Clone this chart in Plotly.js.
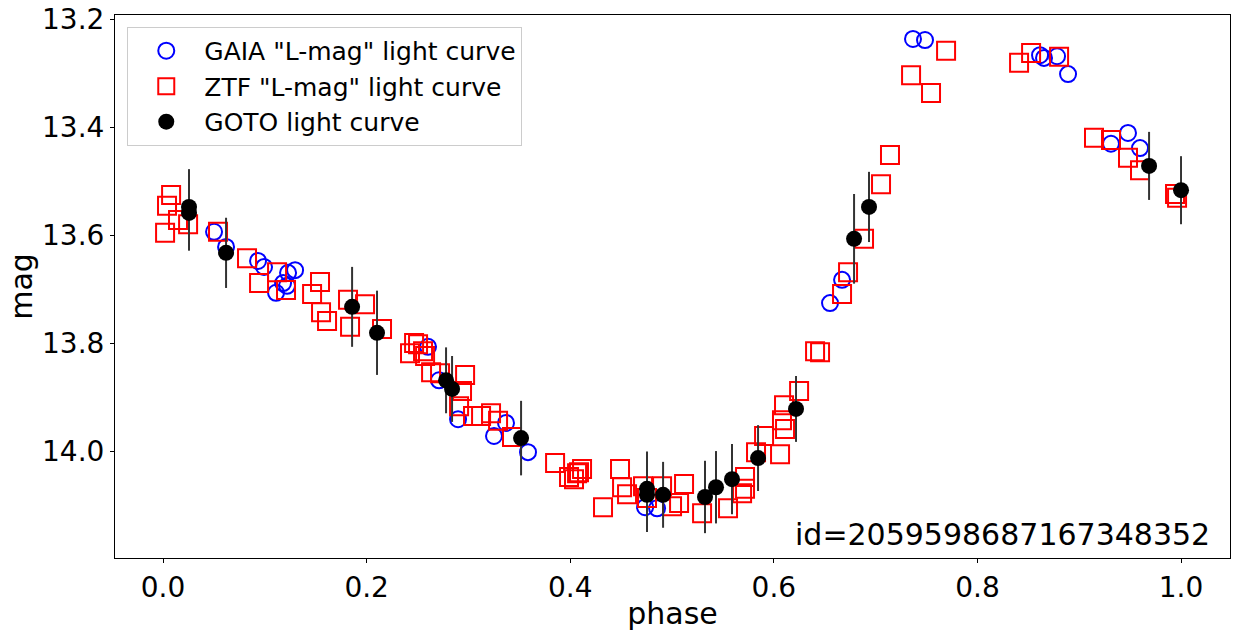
<!DOCTYPE html>
<html>
<head>
<meta charset="utf-8">
<script src="https://cdn.plot.ly/plotly-3.0.1.min.js"></script>
<style>html,body{margin:0;padding:0;background:#fff;}#chart{width:1237px;height:634px;}</style>
</head>
<body>
<div id="chart"></div>
<script>
// GAIA "L-mag" light curve
const gaiaPhase = [0.0501,0.0619,0.0933,0.0992,0.1297,0.1228,0.1179,0.1218,0.1110,0.2603,0.2711,0.2898,0.3369,0.3251,0.3585,0.4735,0.4853,0.6552,0.6670,0.7367,0.7485,0.8615,0.8654,0.8782,0.8890,0.9312,0.9479,0.9597];
const gaiaMag   = [13.594,13.622,13.648,13.659,13.665,13.670,13.689,13.694,13.707,13.807,13.869,13.941,13.948,13.972,14.002,14.104,14.106,13.726,13.683,13.237,13.239,13.267,13.272,13.269,13.302,13.431,13.411,13.439];

// ZTF "L-mag" light curve
const ztfPhase = [0.0079,0.0039,0.0147,0.0246,0.0020,0.0540,0.0825,0.1120,0.0943,0.1208,0.1542,0.1464,0.1817,0.1984,0.1552,0.1611,0.1837,0.2151,0.2466,0.2505,0.2426,0.2554,0.2574,0.2633,0.2721,0.2967,0.2937,0.2908,0.3045,0.3124,0.3222,0.3291,0.3428,
  0.3851,0.3988,0.4037,0.4086,0.4116,0.4067,0.4322,0.4489,0.4509,0.4558,0.4715,0.4754,0.4902,0.5000,0.5069,0.5118,0.5295,0.5550,0.5717,0.5717,0.5688,0.5825,0.6061,0.5904,0.6080,0.6110,0.6100,0.6248,0.6405,0.6454,
  0.6670,0.6729,0.6886,0.7053,0.7141,0.7348,0.7544,0.7692,0.8409,0.8527,0.8802,0.9145,0.9312,0.9479,0.9597,0.9941,0.9961];
const ztfMag = [13.526,13.546,13.572,13.580,13.596,13.594,13.643,13.669,13.689,13.702,13.687,13.709,13.720,13.728,13.743,13.759,13.770,13.774,13.800,13.802,13.819,13.815,13.824,13.854,13.856,13.859,13.889,13.917,13.935,13.935,13.930,13.944,13.974,
  14.022,14.048,14.052,14.039,14.033,14.041,14.104,14.033,14.067,14.080,14.065,14.087,14.065,14.102,14.096,14.061,14.115,14.106,14.048,14.070,14.078,14.002,14.006,13.972,13.943,13.959,13.915,13.889,13.815,13.817,
  13.709,13.669,13.607,13.506,13.452,13.304,13.337,13.259,13.281,13.263,13.270,13.420,13.424,13.457,13.480,13.524,13.531];

// GOTO light curve
const gotoPhase = [0.0255,0.0255,0.0619,0.1857,0.2102,0.2780,0.2839,0.3517,0.4754,0.4754,0.4912,0.5324,0.5432,0.5589,0.5845,0.6218,0.6788,0.6935,0.9686,1.0000];
const gotoMag   = [13.548,13.559,13.633,13.733,13.781,13.869,13.885,13.976,14.070,14.081,14.081,14.085,14.067,14.052,14.013,13.922,13.607,13.548,13.472,13.517];
const gotoErr   = [0.070,0.070,0.065,0.074,0.078,0.061,0.061,0.069,0.069,0.069,0.061,0.067,0.067,0.065,0.061,0.061,0.083,0.065,0.063,0.063];

const idLabel = "id=2059598687167348352";

const FONT = "DejaVu Sans, Liberation Sans, sans-serif";

const traces = [
  {x: gaiaPhase, y: gaiaMag, type: 'scatter', mode: 'markers', name: 'GAIA "L-mag" light curve',
   marker: {symbol: 'circle-open', size: 16, color: '#0000ff', line: {width: 2, color: '#0000ff'}}},
  {x: ztfPhase, y: ztfMag, type: 'scatter', mode: 'markers', name: 'ZTF "L-mag" light curve',
   marker: {symbol: 'square-open', size: 18, color: '#ff0000', line: {width: 2, color: '#ff0000'}}},
  {x: gotoPhase, y: gotoMag, type: 'scatter', mode: 'markers', name: 'GOTO light curve',
   marker: {symbol: 'circle', size: 16, color: '#000000'},
   error_y: {type: 'data', array: gotoErr, visible: true, color: '#333333', thickness: 2, width: 0}}
];

const layout = {
  width: 1237, height: 634,
  margin: {l: 115, r: 7, t: 15, b: 76},
  paper_bgcolor: '#ffffff', plot_bgcolor: '#ffffff',
  font: {family: FONT, size: 28, color: '#000000'},
  showlegend: true,
  legend: {
    x: 0.011, y: 0.978, xanchor: 'left', yanchor: 'top',
    bgcolor: 'rgba(255,255,255,0.8)', bordercolor: '#cccccc', borderwidth: 1,
    font: {family: FONT, size: 25, color: '#000000'},
    itemwidth: 66
  },
  xaxis: {
    range: [-0.0472, 1.0481], dtick: 0.2, tick0: 0, tickformat: '.1f',
    showgrid: false, zeroline: false,
    showline: true, linecolor: '#000000', linewidth: 1, mirror: true,
    ticks: 'outside', ticklen: 4, tickcolor: '#000000', tickwidth: 1,
    tickfont: {family: FONT, size: 28, color: '#000000'},
    title: {text: 'phase', font: {family: FONT, size: 30, color: '#000000'}, standoff: 0}
  },
  yaxis: {
    range: [14.198, 13.1926], dtick: 0.2, tick0: 13.2, tickformat: '.1f',
    showgrid: false, zeroline: false,
    showline: true, linecolor: '#000000', linewidth: 1, mirror: true,
    ticks: 'outside', ticklen: 4, tickcolor: '#000000', tickwidth: 1,
    tickfont: {family: FONT, size: 28, color: '#000000'},
    title: {text: 'mag', font: {family: FONT, size: 30, color: '#000000'}, standoff: 0}
  },
  annotations: [{
    text: idLabel, xref: 'paper', yref: 'paper', x: 0.984, y: 0.008,
    xanchor: 'right', yanchor: 'bottom', showarrow: false,
    font: {family: FONT, size: 30, color: '#000000'}
  }]
};

Plotly.newPlot('chart', traces, layout, {displayModeBar: false, staticPlot: true});
</script>
</body>
</html>
